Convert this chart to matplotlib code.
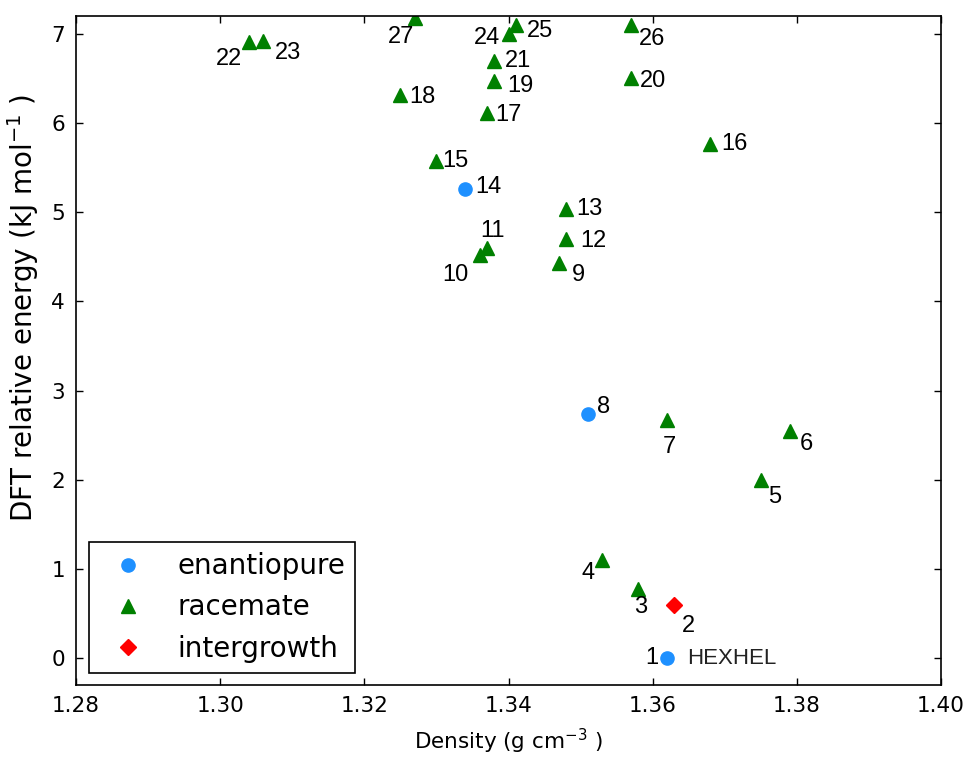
import matplotlib
matplotlib.use("Agg")
import matplotlib.pyplot as plt

# structure ids, density (g/cm3) and relative DFT energy (kJ/mol)
ids = [str(i) for i in range(1, 28)]
density = [1.362, 1.363, 1.358, 1.353, 1.375, 1.379, 1.362, 1.351, 1.347,
           1.336, 1.337, 1.348, 1.348, 1.334, 1.330, 1.368, 1.337, 1.325,
           1.338, 1.357, 1.338, 1.304, 1.306, 1.340, 1.341, 1.357, 1.327]
energy = [0.00, 0.60, 0.78, 1.10, 2.00, 2.55, 2.67, 2.74, 4.43,
          4.52, 4.60, 4.70, 5.04, 5.26, 5.58, 5.76, 6.11, 6.31,
          6.47, 6.50, 6.70, 6.91, 6.92, 7.00, 7.10, 7.10, 7.18]
kind = ['enantiopure', 'intergrowth', 'racemate', 'racemate', 'racemate',
        'racemate', 'racemate', 'enantiopure', 'racemate', 'racemate',
        'racemate', 'racemate', 'racemate', 'enantiopure', 'racemate',
        'racemate', 'racemate', 'racemate', 'racemate', 'racemate',
        'racemate', 'racemate', 'racemate', 'racemate', 'racemate',
        'racemate', 'racemate']

# label offsets in pixels (dx, dy), dy upwards
offsets = {
    '1': (-15, 0), '2': (14, -21), '3': (2, -18), '4': (-14, -13),
    '5': (14, -17), '6': (17, -13), '7': (2, -27), '8': (16, 7),
    '9': (19, -12), '10': (-24, -20), '11': (6, 17), '12': (27, -2),
    '13': (23, 0), '14': (23, 2), '15': (19, 0), '16': (24, 0),
    '17': (22, -2), '18': (22, -2), '19': (26, -5), '20': (22, -3),
    '21': (24, 0), '22': (-20, -17), '23': (25, -12), '24': (-22, -4),
    '25': (24, -6), '26': (21, -14), '27': (-14, -19),
}

styles = {
    'enantiopure': dict(marker='o', color='dodgerblue', ms=9.5),
    'racemate': dict(marker='^', color='green', ms=10),
    'intergrowth': dict(marker='D', color='red', ms=8),
}

plt.rcParams['mathtext.default'] = 'regular'

fig = plt.figure(figsize=(9.66, 7.58), dpi=100)
ax = fig.add_axes([0.0787, 0.0963, 0.8954, 0.8826])

for name in ['enantiopure', 'racemate', 'intergrowth']:
    xs = [d for d, k in zip(density, kind) if k == name]
    ys = [e for e, k in zip(energy, kind) if k == name]
    st = styles[name]
    ax.plot(xs, ys, linestyle='none', marker=st['marker'], color=st['color'],
            mec=st['color'], ms=st['ms'], label=name)

for lab, x, y in zip(ids, density, energy):
    dx, dy = offsets[lab]
    ax.annotate(lab, (x, y), xytext=(dx, dy), textcoords='offset pixels',
                ha='center', va='center', fontsize=17, family='Liberation Sans')

ax.annotate('HEXHEL', (density[0], energy[0]), xytext=(20, 0),
            textcoords='offset pixels', ha='left', va='center',
            fontsize=16, family='Liberation Sans', color='#222222')

ax.set_xlim(1.28, 1.40)
ax.set_ylim(-0.3, 7.2)
ax.set_xticks([1.28, 1.30, 1.32, 1.34, 1.36, 1.38, 1.40])
ax.set_yticks(range(0, 8))
ax.tick_params(direction='in', top=True, right=True, length=5, width=1,
               labelsize=15.5, pad=8)
for sp in ax.spines.values():
    sp.set_linewidth(1.2)

ax.set_xlabel('Density (g cm$^{-3}$ )', fontsize=15.5, labelpad=8)
ax.set_ylabel('DFT relative energy (kJ mol$^{-1}$ )', fontsize=20)
ax.yaxis.set_label_coords(-0.04, 0.563)

leg = ax.legend(loc='lower left', numpoints=1, fontsize=20, handlelength=2.09,
                handletextpad=0.75, labelspacing=0.47, borderpad=0.36,
                fancybox=False, framealpha=1, edgecolor='black',
                borderaxespad=0.45)
leg.get_frame().set_linewidth(1.2)

fig.savefig('out.png', dpi=100)
